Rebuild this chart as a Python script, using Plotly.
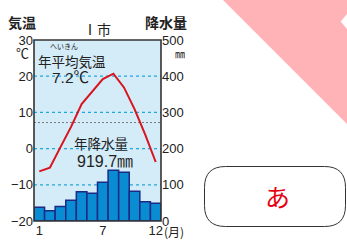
import plotly.graph_objects as go

months = list(range(1, 13))
temperature = [-6.3, -5.3, 0.4, 6.0, 12.3, 15.8, 19.2, 20.7, 16.9, 10.9, 3.9, -3.7]
precipitation = [38, 28, 40, 57, 81, 77, 107, 140, 135, 82, 53, 49]
left_ticks = [-20, -10, 0, 10, 20, 30]
left_labels = ["−20", "−10", "0", "10", "20", "30"]
right_ticks = [0, 100, 200, 300, 400, 500]
right_labels = ["0", "100", "200", "300", "400", "500"]
x_ticks = [1, 7, 12]
x_labels = ["1", "7", "12"]
grid_temps = [-10, 0, 10, 20]
avg_temp = 7.2

W, H = 347, 241
JP = "Noto Sans CJK JP"
NUM = "Liberation Sans, Arial, Noto Sans CJK JP"


def px(x):
    return x / W


def py(y):
    return 1 - y / H


fig = go.Figure()
fig.add_trace(go.Bar(
    x=months, y=precipitation, yaxis="y2",
    marker=dict(color="#0a8cd2", line=dict(color="#1b2a85", width=1.5)),
    hoverinfo="skip", showlegend=False,
))
fig.add_trace(go.Scatter(
    x=months, y=temperature, yaxis="y", mode="lines",
    line=dict(color="#d9141e", width=2),
    hoverinfo="skip", showlegend=False,
))

shapes = []
for g in grid_temps:
    shapes.append(dict(type="line", xref="x domain", yref="y", x0=0, x1=1, y0=g, y1=g,
                       line=dict(color="#22a6dc", width=1.2, dash="3px,3px"), layer="below"))
shapes.append(dict(type="line", xref="x domain", yref="y", x0=0, x1=1, y0=avg_temp, y1=avg_temp,
                   line=dict(color="#7a7a7a", width=1, dash="2px,2px"), layer="below"))
shapes.append(dict(type="rect", xref="x domain", yref="y domain", x0=0, x1=1, y0=0, y1=1,
                   line=dict(color="#333333", width=1.6), layer="above"))

# pink triangle in corner
shapes.append(dict(type="path", xref="paper", yref="paper",
                   path=f"M {px(223)},{py(0)} L {px(347)},{py(0)} L {px(347)},{py(124)} Z",
                   fillcolor="#ffb3b6", line=dict(width=0), layer="below"))
shapes.append(dict(type="path", xref="paper", yref="paper",
                   path=f"M {px(347)},{py(14)} L {px(340.7)},{py(21.5)} L {px(347)},{py(29)} Z",
                   fillcolor="#ffffff", line=dict(width=0), layer="below"))

# rounded box
x0, x1, y0, y1, r = 204.5, 345.5, 166.5, 226.5, 21
p = (f"M {px(x0+r)},{py(y0)} L {px(x1-r)},{py(y0)} Q {px(x1)},{py(y0)} {px(x1)},{py(y0+r)} "
     f"L {px(x1)},{py(y1-r)} Q {px(x1)},{py(y1)} {px(x1-r)},{py(y1)} "
     f"L {px(x0+r)},{py(y1)} Q {px(x0)},{py(y1)} {px(x0)},{py(y1-r)} "
     f"L {px(x0)},{py(y0+r)} Q {px(x0)},{py(y0)} {px(x0+r)},{py(y0)} Z")
shapes.append(dict(type="path", xref="paper", yref="paper", path=p,
                   fillcolor="#ffffff", line=dict(color="#333333", width=1)))

annotations = []


def note(text, x, y, size, family=JP, color="#222222", xanchor="center", weight=None):
    f = dict(family=family, size=size, color=color)
    if weight:
        f["weight"] = weight
    annotations.append(dict(text=text, x=px(x), y=py(y), xref="paper", yref="paper",
                            showarrow=False, xanchor=xanchor, yanchor="middle",
                            borderpad=0, font=f))


note("気温", 22, 22, 14, weight="bold")
note("降水量", 166, 22, 14, weight="bold")
note("Ⅰ市", 97, 29, 14)
note("℃", 22.5, 54, 13, family=NUM)
note("㎜", 180, 54, 10)
note("へいきん", 64, 46.5, 7)
note("年平均気温", 72, 60.5, 13.5)
note("7.2℃", 70, 77.5, 15.5, family=NUM)
note("年降水量", 101, 143, 13.5)
note("919.7㎜", 105, 161, 16, family=NUM)
note("(月)", 163, 231.5, 12, xanchor="left")
note("あ", 277, 196, 25, color="#e60012")

tick_font = dict(family=NUM, size=13, color="#222222")
fig.update_layout(
    width=W, height=H, autosize=False,
    margin=dict(l=0, r=0, t=0, b=0, pad=0, autoexpand=False),
    paper_bgcolor="#ffffff",
    plot_bgcolor="#d4ebf8",
    bargap=0,
    showlegend=False,
    xaxis=dict(domain=[px(34), px(161)], range=[0.5, 12.5], tickvals=x_ticks, ticktext=x_labels,
               showgrid=False, zeroline=False, showline=False, ticks="", automargin=False,
               tickfont=tick_font),
    yaxis=dict(domain=[py(221), py(40)], range=[-20, 30], tickvals=left_ticks, ticktext=left_labels,
               showgrid=False, zeroline=False, showline=False, ticks="", automargin=False,
               tickfont=tick_font),
    yaxis2=dict(domain=[py(221), py(40)], range=[0, 500], overlaying="y", side="right", anchor="x",
                tickvals=right_ticks, ticktext=right_labels, automargin=False,
                showgrid=False, zeroline=False, showline=False, ticks="",
                tickfont=tick_font),
    shapes=shapes,
    annotations=annotations,
)

fig.write_html(
    "out.html", config={"displayModeBar": False, "staticPlot": True},
    post_script=("document.documentElement.style.margin='0';"
                 "document.documentElement.style.overflow='hidden';"
                 "document.body.style.margin='0';document.body.style.padding='0';"
                 "document.body.style.overflow='hidden';"
                 "document.body.style.height='241px';"),
)
